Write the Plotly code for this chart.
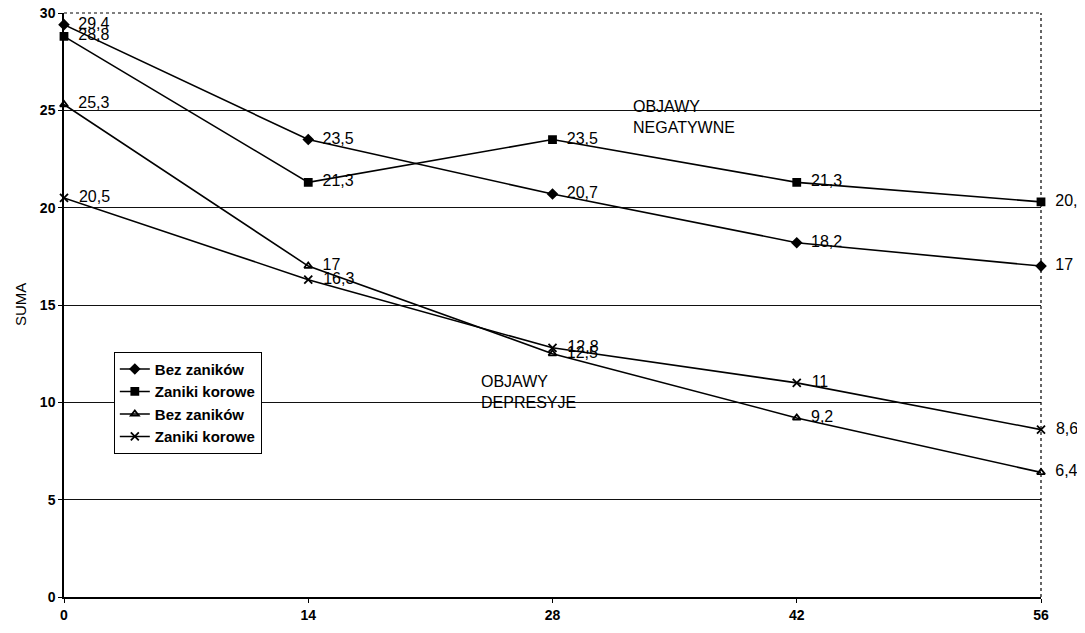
import plotly.graph_objects as go

days = [0, 14, 28, 42, 56]
neg_bez = [29.4, 23.5, 20.7, 18.2, 17]
neg_zan = [28.8, 21.3, 23.5, 21.3, 20.3]
dep_bez = [25.3, 17, 12.5, 9.2, 6.4]
dep_zan = [20.5, 16.3, 12.8, 11, 8.6]
names = ["Bez zaników", "Zaniki korowe", "Bez zaników", "Zaniki korowe"]
symbols = ["diamond", "square", "triangle-up-open", "x-thin-open"]
yticks = [0, 5, 10, 15, 20, 25, 30]

def fmt(v):
    return ("%g" % v).replace(".", ",")

fig = go.Figure()
for vals, nm, sym in zip([neg_bez, neg_zan, dep_bez, dep_zan], names, symbols):
    fig.add_trace(go.Scatter(
        x=days, y=vals, name=nm, mode="lines+markers+text",
        text=["  " + fmt(v) for v in vals], textposition="middle right",
        textfont=dict(family="Liberation Sans, Arial", size=16, color="black"),
        line=dict(color="black", width=1.6),
        marker=dict(symbol=sym, size=7 if "x" not in sym else 8, color="black",
                    line=dict(color="black", width=1.8)),
        cliponaxis=False,
    ))

fig.update_layout(
    width=1077, height=625,
    margin=dict(l=56, r=44, t=5, b=36),
    paper_bgcolor="white", plot_bgcolor="white",
    font=dict(family="Liberation Sans, Arial", color="black"),
    showlegend=True,
    legend=dict(x=0.051, y=0.42, xanchor="left", yanchor="top",
                bordercolor="black", borderwidth=1, bgcolor="white",
                font=dict(size=15, family="Liberation Sans Narrow, Arial Narrow, Liberation Sans", weight="bold"),
                tracegroupgap=0, itemwidth=30),
    xaxis=dict(range=[0, 56], tickvals=days, ticktext=[str(d) for d in days],
               showgrid=False, zeroline=False, showline=True, linecolor="black", linewidth=1.5,
               ticks="outside", ticklen=4, tickcolor="black", automargin=False,
               ticklabeloverflow="allow",
               tickfont=dict(size=14, weight="bold", family="Liberation Sans Narrow, Arial Narrow, Liberation Sans")),
    yaxis=dict(range=[0, 30], tickvals=yticks, showgrid=True, gridcolor="#111", gridwidth=1,
               zeroline=False, showline=True, linecolor="black", linewidth=1.5,
               ticks="outside", ticklen=4, tickcolor="black", automargin=False,
               ticklabeloverflow="allow",
               tickfont=dict(size=14, weight="bold")),
    shapes=[
        dict(type="line", xref="paper", yref="paper", x0=0, x1=1, y0=1, y1=1,
             line=dict(color="black", width=1.2, dash="dot")),
        dict(type="line", xref="paper", yref="paper", x0=1, x1=1, y0=0, y1=1,
             line=dict(color="black", width=1.2, dash="dot")),
    ],
    annotations=[
        dict(x=0, y=0.5, xref="paper", yref="paper", text="SUMA", textangle=-90,
             showarrow=False, xshift=-44, xanchor="center", font=dict(size=15)),
        dict(x=32.5, y=25.75, xref="x", yref="y", text="OBJAWY<br>NEGATYWNE", showarrow=False,
             xanchor="left", yanchor="top", align="left", font=dict(size=16)),
        dict(x=23.8, y=11.6, xref="x", yref="y", text="OBJAWY<br>DEPRESYJE", showarrow=False,
             xanchor="left", yanchor="top", align="left", font=dict(size=16)),
    ],
)
fig.write_html("out.html")
